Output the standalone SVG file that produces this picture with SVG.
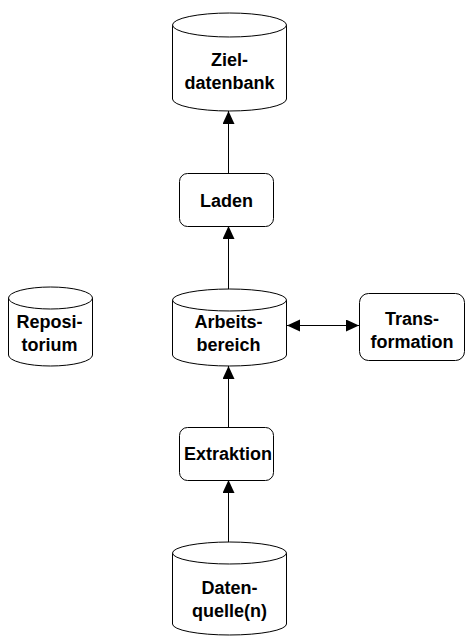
<svg xmlns="http://www.w3.org/2000/svg" width="466" height="637" viewBox="0 0 466 637">
<style>
.shape{fill:#fff;stroke:#000;stroke-width:1}
.lbl{font-family:"Liberation Sans",Arial,sans-serif;font-weight:bold;font-size:18px;text-anchor:middle;fill:#000}
.conn{stroke:#000;stroke-width:1;fill:none}
</style>
<defs>
<marker id="ah" markerUnits="userSpaceOnUse" markerWidth="14" markerHeight="13" refX="13" refY="6" orient="auto-start-reverse">
<path d="M0,0 L13,6 L0,12 Z" fill="#000"/>
</marker>
</defs>
<rect width="466" height="637" fill="#fff"/>
<g id="connectors">
<line class="conn" x1="228.5" y1="173" x2="228.5" y2="111" marker-end="url(#ah)"/>
<line class="conn" x1="228.5" y1="289" x2="228.5" y2="226" marker-end="url(#ah)"/>
<line class="conn" x1="228.5" y1="427" x2="228.5" y2="366" marker-end="url(#ah)"/>
<line class="conn" x1="228.5" y1="542" x2="228.5" y2="480" marker-end="url(#ah)"/>
<line class="conn" x1="287" y1="325.5" x2="359" y2="325.5" marker-start="url(#ah)" marker-end="url(#ah)"/>
</g>
<g id="zieldatenbank">
<path class="shape" d="M172.5,25 A57,12 0 0 1 286.5,25 L286.5,99 A57,12 0 0 1 172.5,99 Z"/>
<path class="shape" d="M172.5,25 A57,12 0 0 0 286.5,25"/>
<text class="lbl" transform="translate(229.5,66) scale(1,1.06)">Ziel-</text>
<text class="lbl" transform="translate(229.5,89) scale(1,1.06)">datenbank</text>
</g>
<g id="laden">
<rect class="shape" x="179.5" y="173.5" width="94" height="53" rx="8"/>
<text class="lbl" transform="translate(226.5,207) scale(1,1.06)">Laden</text>
</g>
<g id="arbeitsbereich">
<path class="shape" d="M172.5,300 A57,11 0 0 1 286.5,300 L286.5,355 A57,11 0 0 1 172.5,355 Z"/>
<path class="shape" d="M172.5,300 A57,11 0 0 0 286.5,300"/>
<text class="lbl" transform="translate(228.5,328) scale(1,1.06)">Arbeits-</text>
<text class="lbl" transform="translate(228.5,351) scale(1,1.06)">bereich</text>
</g>
<g id="transformation">
<rect class="shape" x="359.5" y="293.5" width="105" height="67" rx="9"/>
<text class="lbl" transform="translate(412,325) scale(1,1.06)">Trans-</text>
<text class="lbl" transform="translate(412,348) scale(1,1.06)">formation</text>
</g>
<g id="repositorium">
<path class="shape" d="M8.5,298 A42,11 0 0 1 92.5,298 L92.5,355 A42,11 0 0 1 8.5,355 Z"/>
<path class="shape" d="M8.5,298 A42,11 0 0 0 92.5,298"/>
<text class="lbl" transform="translate(49.5,328) scale(1,1.06)">Reposi-</text>
<text class="lbl" transform="translate(49.5,351) scale(1,1.06)">torium</text>
</g>
<g id="extraktion">
<rect class="shape" x="179.5" y="427.5" width="94" height="53" rx="8"/>
<text class="lbl" transform="translate(228,460) scale(1,1.06)">Extraktion</text>
</g>
<g id="datenquelle">
<path class="shape" d="M172.5,553 A57,11 0 0 1 286.5,553 L286.5,624 A57,11 0 0 1 172.5,624 Z"/>
<path class="shape" d="M172.5,553 A57,11 0 0 0 286.5,553"/>
<text class="lbl" transform="translate(229.5,594) scale(1,1.06)">Daten-</text>
<text class="lbl" transform="translate(229.5,617) scale(1,1.06)">quelle(n)</text>
</g>
</svg>
